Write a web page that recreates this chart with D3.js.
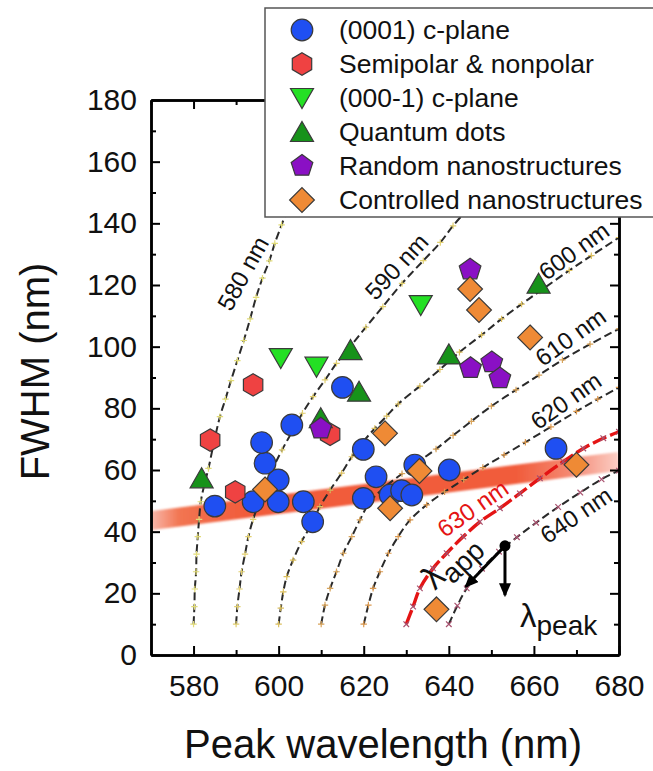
<!DOCTYPE html>
<html><head><meta charset="utf-8">
<script src="https://cdn.jsdelivr.net/npm/d3@7"></script>
<style>
body{margin:0;background:#fff}
svg{display:block}
text{font-family:"Liberation Sans",Arial,sans-serif;fill:#111}
</style>
</head><body>
<svg id="c" width="653" height="771"></svg>
<script>
// ---------------- data ----------------
const xTickValues = [580, 600, 620, 640, 660, 680];
const xMinorValues = [570, 590, 610, 630, 650, 670];
const yTickValues = [0, 20, 40, 60, 80, 100, 120, 140, 160, 180];
const yMinorValues = [10, 30, 50, 70, 90, 110, 130, 150, 170];

const seriesNames = ["(0001) c-plane", "Semipolar & nonpolar", "(000-1) c-plane",
  "Quantum dots", "Random nanostructures", "Controlled nanostructures"];

const cPlaneX = [585, 594, 599.9, 605.8, 608, 599.9, 596.8, 596, 603.1, 615, 619.9, 622.9, 619.9, 626.2, 628.9, 631.3, 632, 640.1, 665.2];
const cPlaneY = [48.3, 49.7, 49.7, 49.7, 43.2, 56.8, 62.2, 68.9, 74.6, 86.8, 66.7, 57.8, 50.8, 51.9, 53.3, 51.9, 61.6, 60, 67];
const semiX = [583.9, 589.8, 594, 612.1];
const semiY = [69.7, 52.9, 87.6, 71.6];
const nPlaneX = [600.5, 608.9, 633.4];
const nPlaneY = [96.3, 93.5, 113.5];
const qdX = [581.9, 609.9, 616.9, 618.9, 640, 661.1];
const qdY = [57.3, 76.8, 98.9, 85.4, 97.5, 120.4];
const randomX = [609.9, 645, 645.1, 650.1, 652];
const randomY = [73.4, 125, 93, 94.9, 89.7];
const ctrlX = [596.8, 625, 626.2, 633.1, 637.1, 645, 647.1, 659.1, 670];
const ctrlY = [53.7, 71.9, 47.6, 59.7, 14.8, 118.7, 111.9, 103, 61.7];

// iso-apparent-wavelength curves [peak wavelength, FWHM]
const curve580 = [[580,10],[580.2,15.7],[580.3,21.4],[580.6,27],[580.7,32.7],[581,38.4],[581.3,44],[581.7,49.7],[582.5,55],[583.5,60.5],[584.8,69],[586.2,77.3],[587.5,83],[588.8,89],[590.3,95.5],[591.8,102],[593.3,109],[594.7,116],[596.2,122.2],[597.8,127.8],[599.1,133.5],[600.7,139.5],[602.3,145.5],[604,152]];
const curve590 = [[590,10],[590.3,15.7],[590.8,21.4],[591.3,27],[592.1,32.7],[592.9,38.4],[594,44],[595.5,49.7],[596.8,54.2],[598.7,60.6],[600.8,66.5],[603.2,72.5],[605.6,78.4],[608.1,83.8],[610.9,89.2],[613.6,94.6],[616.8,100],[620.5,106.3],[624.5,113],[629,120.5],[634,127.9],[638,133.8],[641,139.2],[645,145.5]];
const curve600 = [[600,10],[600.5,15.2],[601.1,20.5],[601.9,25.4],[603.4,30.8],[605.4,36.8],[607.4,41.6],[609.7,48.1],[612.1,53.5],[614.8,59],[617.2,64.3],[619.9,69.2],[622.6,73.5],[625.4,77.5],[628.1,81.4],[633.2,87.2],[637.9,92.6],[642.5,98.2],[647.7,103.8],[652.4,109],[657.1,113.8],[661.4,118],[668.3,124.7],[673.5,129.5],[680,135.4]];
const curve610 = [[610,10],[610.9,16.2],[612.1,21.6],[613.6,27],[615.2,33],[617.2,38.4],[619.1,43.8],[621.5,49.7],[625,54.5],[629,58.8],[633,62.8],[637,66.8],[641,71.2],[645.3,75.8],[650,80.7],[655.8,86],[661.2,90.8],[666.7,95.7],[673.2,100.8],[680,105.8]];
const curve620 = [[620,10],[621.1,16.2],[622.2,21.6],[623.8,27],[625.8,33],[628.1,38.4],[630.9,43.8],[634.8,48.7],[639,52.9],[643.5,56.9],[648,60.8],[653,64.9],[658,69],[664,74],[670,79],[675,83],[680,86.8]];
const curve630 = [[630,10],[631.6,15.7],[633.2,21.6],[636.3,28.1],[639.5,33],[643.4,38.4],[647.3,43.2],[652,47.6],[656.7,52.4],[661.4,57.3],[666.9,62.7],[671.6,67],[676.3,70.3],[680,72.4]];
const curve640 = [[640,10],[642,16],[644.2,21.6],[647.8,28],[651.8,33.5],[656,38.2],[660.5,42.9],[665.7,48],[670.9,52.7],[675.9,57],[680,59.8]];
const curveNames = ["580 nm", "590 nm", "600 nm", "610 nm", "620 nm", "630 nm", "640 nm"];
const curveLabelAt = [[591.6,123.8],[627.7,126],[669.4,131.1],[668.6,103.2],[667.5,82.5],[645.6,47.6],[669.9,45.4]];
const curveLabelAngle = [-61, -47, -36, -36, -35, -35, -34];

// broad trend band
const bandLambda = [570, 680];
const bandFwhm = [43.6, 62.8];

// annotation
const dotPoint = [653.2, 35.4];
const appArrowEnd = [644.0, 22.2];
const peakArrowEnd = [653.2, 19.4];

// ---------------- drawing ----------------
const W = 653, H = 771;
const svg = d3.select("#c");
svg.append("rect").attr("width", W).attr("height", H).attr("fill", "#fff");

const x = d3.scaleLinear().domain([570, 680]).range([151, 619]);
const y = d3.scaleLinear().domain([0, 180]).range([655, 100]);

const defs = svg.append("defs");
defs.append("clipPath").attr("id", "clip").append("rect")
  .attr("x", x(570)).attr("y", y(180)).attr("width", x(680) - x(570)).attr("height", y(0) - y(180));

const grad = defs.append("linearGradient").attr("id", "bandGrad")
  .attr("gradientUnits", "userSpaceOnUse")
  .attr("x1", x(570)).attr("x2", x(680)).attr("y1", 0).attr("y2", 0);
[[0, "#f9b8ab"], [0.06, "#f27552"], [0.2, "#f15c3b"], [0.78, "#f15c3b"], [0.9, "#f58a74"], [1, "#fbcfc6"]]
  .forEach(s => grad.append("stop").attr("offset", s[0]).attr("stop-color", s[1]));
defs.append("filter").attr("id", "soft").attr("x", "-5%").attr("y", "-50%").attr("width", "110%").attr("height", "200%")
  .append("feGaussianBlur").attr("stdDeviation", 1.1);

defs.append("marker").attr("id", "ah").attr("markerUnits", "userSpaceOnUse")
  .attr("viewBox", "0 0 14 12").attr("refX", 12).attr("refY", 6)
  .attr("markerWidth", 14).attr("markerHeight", 12).attr("orient", "auto")
  .append("path").attr("d", "M0,0L14,6L0,12Z").attr("fill", "#000");

const plot = svg.append("g").attr("clip-path", "url(#clip)");

// band
plot.append("line")
  .attr("x1", x(bandLambda[0])).attr("y1", y(bandFwhm[0]))
  .attr("x2", x(bandLambda[1])).attr("y2", y(bandFwhm[1]))
  .attr("stroke", "url(#bandGrad)").attr("stroke-width", 19).attr("filter", "url(#soft)");

// curves
const curves = [curve580, curve590, curve600, curve610, curve620, curve630, curve640];
const markColor = ["#e2dc78", "#e2d070", "#dcc060", "#d9a45a", "#dc9a50", "#a8506e", "#a8506e"];
const markType = ["+", "+", "+", "+", "+", "x", "x"];
const line = d3.line().x(d => x(d[0])).y(d => y(d[1])).curve(d3.curveCatmullRom.alpha(0.5));
curves.forEach((c, i) => {
  const red = i === 5;
  plot.append("path").attr("d", line(c)).attr("fill", "none")
    .attr("stroke", red ? "#e41414" : "#2a2a2a")
    .attr("stroke-width", red ? 3.4 : 2)
    .attr("stroke-dasharray", red ? "15,4" : "8,4");
  const mk = markType[i] === "+" ? "M-3.2,0H3.2M0,-3.2V3.2" : "M-2.8,-2.8L2.8,2.8M-2.8,2.8L2.8,-2.8";
  plot.selectAll(null).data(c).enter().append("path")
    .attr("d", mk).attr("transform", d => `translate(${x(d[0])},${y(d[1])})`)
    .attr("stroke", markColor[i]).attr("stroke-width", 1.2).attr("fill", "none");
});
curveNames.forEach((n, i) => {
  svg.append("text").text(n)
    .attr("transform", `translate(${x(curveLabelAt[i][0])},${y(curveLabelAt[i][1])}) rotate(${curveLabelAngle[i]})`)
    .attr("text-anchor", "middle").attr("dominant-baseline", "central")
    .attr("font-size", 24).style("fill", i === 5 ? "#e41414" : "#111");
});

// symbols
function poly(n, R, start) {
  const p = [];
  for (let k = 0; k < n; k++) {
    const a = start + k * 2 * Math.PI / n;
    p.push([R * Math.cos(a), R * Math.sin(a)]);
  }
  return "M" + p.map(q => q[0].toFixed(2) + "," + q[1].toFixed(2)).join("L") + "Z";
}
const shapes = {
  circle: d3.symbol(d3.symbolCircle, Math.PI * 10.8 * 10.8)(),
  hexagon: poly(6, 11.2, -Math.PI / 2),
  down: "M-11.5,-9.5L11.5,-9.5L0,10.5Z",
  up: "M0,-10.5L11.5,9.5L-11.5,9.5Z",
  pentagon: poly(5, 11.4, -Math.PI / 2),
  diamond: "M0,-12.4L12.4,0L0,12.4L-12.4,0Z"
};
const seriesShape = ["circle", "hexagon", "down", "up", "pentagon", "diamond"];
const seriesFill = ["#1f4ff2", "#ef4242", "#24e024", "#17921a", "#8a10c4", "#ef8a35"];
const seriesX = [cPlaneX, semiX, nPlaneX, qdX, randomX, ctrlX];
const seriesY = [cPlaneY, semiY, nPlaneY, qdY, randomY, ctrlY];

seriesX.forEach((xs, s) => {
  const pts = xs.map((v, i) => [v, seriesY[s][i]]);
  svg.append("g").selectAll("path").data(pts).enter().append("path")
    .attr("d", shapes[seriesShape[s]])
    .attr("transform", d => `translate(${x(d[0])},${y(d[1])})`)
    .attr("fill", seriesFill[s]).attr("stroke", "#3a3a3a").attr("stroke-width", 1.2);
});

// annotation
const ann = svg.append("g");
[appArrowEnd, peakArrowEnd].forEach(e => {
  ann.append("line").attr("x1", x(dotPoint[0])).attr("y1", y(dotPoint[1]))
    .attr("x2", x(e[0])).attr("y2", y(e[1]))
    .attr("stroke", "#000").attr("stroke-width", 3).attr("marker-end", "url(#ah)");
});
ann.append("circle").attr("cx", x(dotPoint[0])).attr("cy", y(dotPoint[1])).attr("r", 5.5).attr("fill", "#000");
const tApp = ann.append("text").attr("transform", "translate(435,591) rotate(-44)").attr("font-size", 34);
tApp.append("tspan").text("λ");
tApp.append("tspan").text("app").attr("font-size", 28).attr("dy", 8);
const tPeak = ann.append("text").attr("x", 520).attr("y", 627).attr("font-size", 33);
tPeak.append("tspan").text("λ");
tPeak.append("tspan").text("peak").attr("font-size", 28).attr("dy", 8);

// axes
const axes = svg.append("g");
function styleAxis(g) {
  g.select(".domain").attr("stroke", "#000").attr("stroke-width", 2.5);
  g.selectAll(".tick line").attr("stroke", "#000").attr("stroke-width", 2);
  g.selectAll(".tick text").attr("font-size", 30).style("fill", "#111")
    .attr("font-family", '"Liberation Sans",Arial,sans-serif');
}
axes.append("g").attr("transform", `translate(0,${y(0)})`)
  .call(d3.axisBottom(x).tickValues(xTickValues).tickSizeInner(-9).tickSizeOuter(0).tickPadding(20).tickFormat(d3.format("d")))
  .call(styleAxis);
axes.append("g").attr("transform", `translate(0,${y(0)})`)
  .call(d3.axisBottom(x).tickValues(xMinorValues).tickSizeInner(-5).tickSizeOuter(0).tickFormat(""))
  .call(styleAxis);
axes.append("g").attr("transform", `translate(0,${y(180)})`)
  .call(d3.axisTop(x).tickValues(xTickValues).tickSizeInner(-9).tickSizeOuter(0).tickFormat(""))
  .call(styleAxis);
axes.append("g").attr("transform", `translate(0,${y(180)})`)
  .call(d3.axisTop(x).tickValues(xMinorValues).tickSizeInner(-5).tickSizeOuter(0).tickFormat(""))
  .call(styleAxis);
axes.append("g").attr("transform", `translate(${x(570)},0)`)
  .call(d3.axisLeft(y).tickValues(yTickValues).tickSizeInner(-9).tickSizeOuter(0).tickPadding(14).tickFormat(d3.format("d")))
  .call(styleAxis);
axes.append("g").attr("transform", `translate(${x(570)},0)`)
  .call(d3.axisLeft(y).tickValues(yMinorValues).tickSizeInner(-5).tickSizeOuter(0).tickFormat(""))
  .call(styleAxis);
axes.append("g").attr("transform", `translate(${x(680)},0)`)
  .call(d3.axisRight(y).tickValues(yTickValues).tickSizeInner(-9).tickSizeOuter(0).tickFormat(""))
  .call(styleAxis);
axes.append("g").attr("transform", `translate(${x(680)},0)`)
  .call(d3.axisRight(y).tickValues(yMinorValues).tickSizeInner(-5).tickSizeOuter(0).tickFormat(""))
  .call(styleAxis);

svg.append("text").text("Peak wavelength (nm)")
  .attr("x", (x(570) + x(680)) / 2 - 2).attr("y", 758).attr("text-anchor", "middle").attr("font-size", 40);
svg.append("text").text("FWHM (nm)")
  .attr("transform", `translate(49,${(y(0) + y(180)) / 2 - 6}) rotate(-90)`)
  .attr("text-anchor", "middle").attr("font-size", 40);

// legend
const leg = svg.append("g");
leg.append("rect").attr("x", 265).attr("y", 8).attr("width", 420).attr("height", 209)
  .attr("fill", "#fff").attr("stroke", "#555").attr("stroke-width", 1.5);
seriesNames.forEach((n, i) => {
  const yy = 30 + i * 34;
  leg.append("path").attr("d", shapes[seriesShape[i]])
    .attr("transform", `translate(302,${yy})`)
    .attr("fill", seriesFill[i]).attr("stroke", "#3a3a3a").attr("stroke-width", 1.2);
  leg.append("text").text(n).attr("x", 339).attr("y", yy)
    .attr("dominant-baseline", "central").attr("font-size", 26.5);
});
</script>
</body></html>
